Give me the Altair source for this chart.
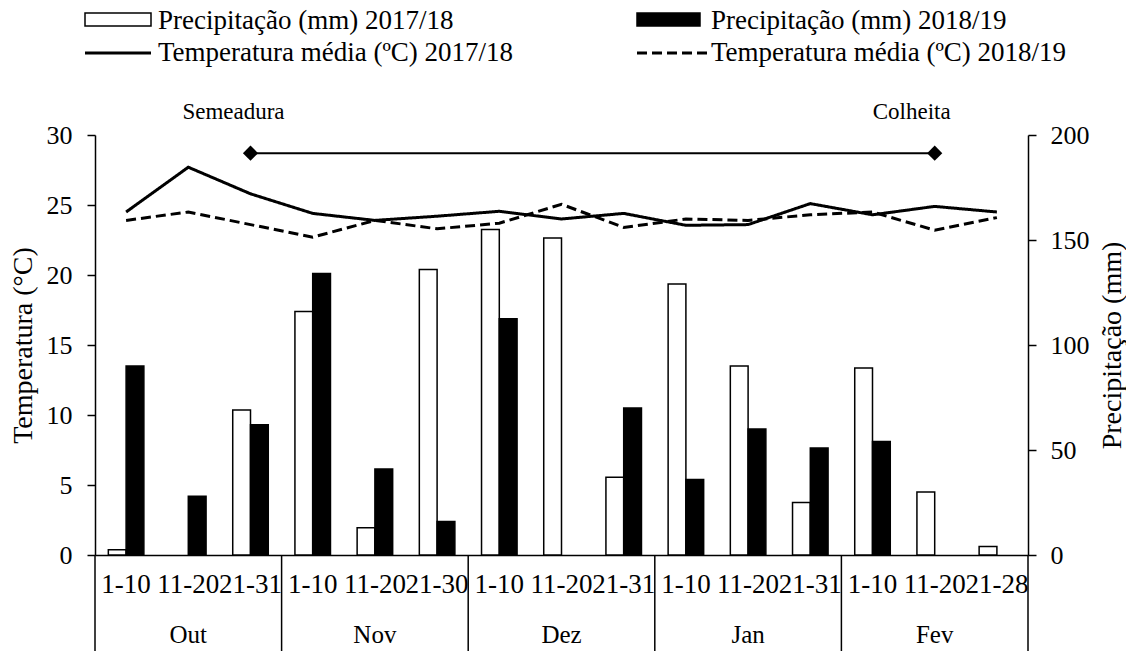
import altair as alt
import pandas as pd

# Ten-day periods, October to February
months = ["Out", "Nov", "Dez", "Jan", "Fev"]
decades = ["1-10", "11-20", "21-31",
           "1-10", "11-20", "21-30",
           "1-10", "11-20", "21-31",
           "1-10", "11-20", "21-31",
           "1-10", "11-20", "21-28"]

# Rainfall per period (mm)
precip_2017_18 = [2.5, 0, 69, 116, 13, 136, 155, 151, 37, 129, 90, 25, 89, 30, 4]
precip_2018_19 = [90, 28, 62, 134, 41, 16, 112.5, 0, 70, 36, 60, 51, 54, 0, 0]

# Mean air temperature per period (°C)
temp_2017_18 = [24.5, 27.7, 25.8, 24.4, 23.9, 24.2, 24.55, 24.0, 24.4, 23.55, 23.6, 25.1, 24.3, 24.9, 24.5]
temp_2018_19 = [23.9, 24.5, 23.6, 22.7, 23.9, 23.3, 23.7, 25.05, 23.4, 24.0, 23.9, 24.3, 24.5, 23.2, 24.1]

# Crop cycle: sowing and harvest periods
cycle_labels = ["Semeadura", "Colheita"]
cycle_periods = [2, 13]
cycle_level = 28.7

series_p = ["Precipitação (mm) 2017/18", "Precipitação (mm) 2018/19"]
series_t = ["Temperatura média (ºC) 2017/18", "Temperatura média (ºC) 2018/19"]

keys = [f"{months[i // 3]} {d}" for i, d in enumerate(decades)]

rain = pd.DataFrame({
    "key": keys * 2,
    "series": [series_p[0]] * 15 + [series_p[1]] * 15,
    "precip": precip_2017_18 + precip_2018_19,
})
temp = pd.DataFrame({
    "key": keys * 2,
    "series": [series_t[0]] * 15 + [series_t[1]] * 15,
    "temp": temp_2017_18 + temp_2018_19,
})
cycle = pd.DataFrame({
    "key": [keys[i] for i in cycle_periods],
    "label": cycle_labels,
    "temp": [cycle_level] * 2,
})
month_df = pd.DataFrame({"key": [keys[3 * m + 1] for m in range(5)], "month": months})
starts_df = pd.DataFrame({"key": [keys[3 * m] for m in range(5)]})
end_df = pd.DataFrame({"key": [keys[-1]]})

W, H = 933, 420
FONT = "Liberation Serif"
xscale = alt.Scale(paddingInner=0, paddingOuter=0)

x_axis = alt.Axis(
    labelExpr="split(datum.label, ' ')[1]", labelFont=FONT, labelFontSize=27,
    labelColor="black", labelPadding=29, labelBaseline="middle", labelOverlap=False,
    labelBound=False, labelFlush=False, labelAngle=0, ticks=False, tickSize=0,
    domainColor="black", domainWidth=1.5, grid=False,
)


def xenc(**kw):
    # every layer shares the same period axis
    return alt.X("key:N", sort=keys, scale=xscale, axis=x_axis, title=None, **kw)


bars = alt.Chart(rain).transform_filter("datum.precip > 0").mark_bar(
    stroke="black", strokeWidth=1.5
).encode(
    x=xenc(),
    xOffset=alt.XOffset("series:N", sort=series_p,
                        scale=alt.Scale(paddingInner=0, paddingOuter=0.75)),
    y=alt.Y("precip:Q", scale=alt.Scale(domain=[0, 200], nice=False),
            axis=alt.Axis(orient="right", values=[0, 50, 100, 150, 200], title="Precipitação (mm)",
                          labelFont=FONT, labelFontSize=26, labelColor="black", labelPadding=14,
                          tickSize=8, tickColor="black", tickWidth=1.5, domainColor="black",
                          domainWidth=1.5, grid=False, titleFont=FONT, titleFontSize=28,
                          titleFontWeight="normal", titleColor="black", titleAngle=270,
                          titleX=84, titleY=H / 2, titleAlign="center", titleBaseline="middle")),
    fill=alt.Fill("series:N", scale=alt.Scale(domain=series_p, range=["white", "black"]), legend=None),
)

lines = alt.Chart(temp).mark_line(color="black", strokeWidth=3).encode(
    x=xenc(),
    y=alt.Y("temp:Q", scale=alt.Scale(domain=[0, 30], nice=False),
            axis=alt.Axis(orient="left", values=[0, 5, 10, 15, 20, 25, 30], title="Temperatura (°C)",
                          labelFont=FONT, labelFontSize=26, labelColor="black", labelPadding=15,
                          tickSize=8, tickColor="black", tickWidth=1.5, domainColor="black",
                          domainWidth=1.5, grid=False, titleFont=FONT, titleFontSize=28,
                          titleFontWeight="normal", titleColor="black", titleAngle=270,
                          titleX=-72, titleY=H / 2, titleAlign="center", titleBaseline="middle")),
    strokeDash=alt.StrokeDash("series:N", scale=alt.Scale(domain=series_t, range=[[1, 0], [10, 5]]),
                              legend=None),
    detail="series:N",
)

cyc_y = alt.Y("temp:Q", scale=alt.Scale(domain=[0, 30], nice=False), axis=None)
cycle_line = alt.Chart(cycle).mark_line(color="black", strokeWidth=2).encode(x=xenc(), y=cyc_y)
cycle_pts = alt.Chart(cycle).mark_point(shape="diamond", filled=True, color="black", size=230,
                                        opacity=1).encode(x=xenc(), y=cyc_y)
sow_text = alt.Chart(cycle.iloc[[0]]).mark_text(font=FONT, fontSize=23, color="black", dx=-17,
                                                baseline="middle").encode(
    x=xenc(), y=alt.value(-23), text="label:N")
harvest_text = alt.Chart(cycle.iloc[[1]]).mark_text(font=FONT, fontSize=23, color="black", dx=-23,
                                                    baseline="middle").encode(
    x=xenc(), y=alt.value(-23), text="label:N")

# Month group labels and separators below the period axis
month_text = alt.Chart(month_df).mark_text(font=FONT, fontSize=25, color="black",
                                           baseline="middle").encode(
    x=xenc(), y=alt.value(H + 80), text="month:N")
sep_start = alt.Chart(starts_df).mark_rule(color="black", strokeWidth=1.5).encode(
    x=xenc(bandPosition=0), y=alt.value(H), y2=alt.value(H + 96))
sep_end = alt.Chart(end_df).mark_rule(color="black", strokeWidth=1.5).encode(
    x=xenc(bandPosition=1), y=alt.value(H), y2=alt.value(H + 96))

# Legend block above the plot
one = pd.DataFrame({"k": [0]})
LX1, LX2 = -10, 542


def legend_text(x, y, txt):
    return alt.Chart(one).mark_text(font=FONT, fontSize=27, color="black", align="left",
                                    baseline="middle", text=txt).encode(
        x=alt.value(x), y=alt.value(y))


leg = [
    alt.Chart(one).mark_rect(fill="white", stroke="black", strokeWidth=1.5).encode(
        x=alt.value(LX1), x2=alt.value(LX1 + 66), y=alt.value(-122), y2=alt.value(-109)),
    alt.Chart(one).mark_rect(fill="black", stroke="black", strokeWidth=1.5).encode(
        x=alt.value(LX2), x2=alt.value(LX2 + 63), y=alt.value(-122), y2=alt.value(-109)),
    alt.Chart(one).mark_rule(color="black", strokeWidth=3).encode(
        x=alt.value(LX1), x2=alt.value(LX1 + 66), y=alt.value(-82)),
    alt.Chart(one).mark_rule(color="black", strokeWidth=3, strokeDash=[10, 5]).encode(
        x=alt.value(LX2), x2=alt.value(LX2 + 70), y=alt.value(-82)),
    legend_text(LX1 + 73, -114, series_p[0]),
    legend_text(LX2 + 74, -114, series_p[1]),
    legend_text(LX1 + 73, -82, series_t[0]),
    legend_text(LX2 + 74, -82, series_t[1]),
]

chart = alt.layer(
    bars, lines, cycle_line, cycle_pts, sow_text, harvest_text,
    month_text, sep_start, sep_end, *leg
).resolve_scale(y="independent").properties(
    width=W, height=H,
    padding={"left": 95, "top": 135, "right": 98, "bottom": 96},
    autosize=alt.AutoSizeParams(type="none"),
    background="white",
).configure_view(stroke=None)

chart.save("out.html", embed_options={"renderer": "svg", "actions": False})
